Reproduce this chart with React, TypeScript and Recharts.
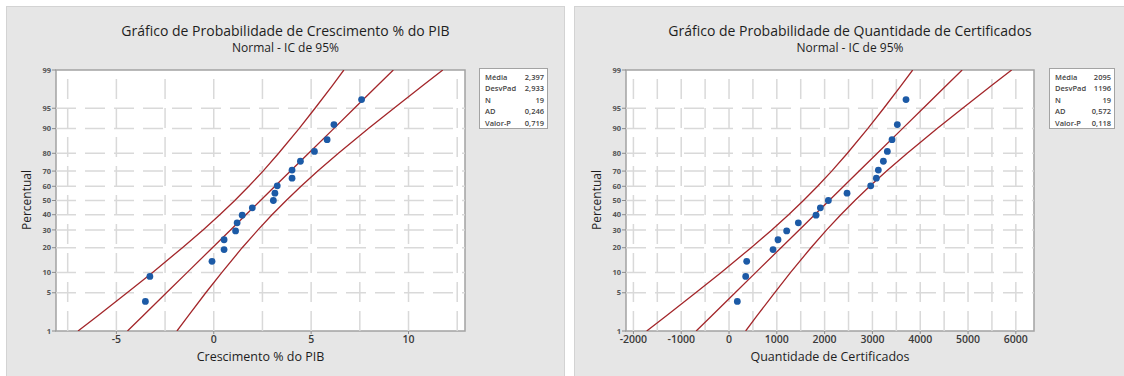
import React from 'react';
import { ScatterChart, Scatter, XAxis, YAxis, ReferenceLine, ReferenceArea } from 'recharts';

// percent ticks on the probability axis
const PCT_TICKS = [1, 5, 10, 20, 30, 40, 50, 60, 70, 80, 90, 95, 99];
const PCT_GRID = [5, 10, 20, 30, 40, 50, 60, 70, 80, 90, 95];
// median ranks of the 19 points
const RANKS = [3.6, 8.8, 13.9, 19.1, 24.2, 29.4, 34.5, 39.7, 44.8, 50, 55.2, 60.3, 65.5, 70.6, 75.8, 80.9, 86.1, 91.2, 96.4];
// percent levels where the fit line and the IC bands were read
const BAND_PCTS = [1, 2, 5, 10, 20, 30, 40, 50, 60, 70, 80, 90, 95, 98, 99];

// Crescimento % do PIB
const pibValues = [-3.51, -3.28, -0.09, 0.53, 0.53, 1.12, 1.2, 1.46, 1.98, 3.06, 3.14, 3.26, 4.02, 4.02, 4.45, 5.17, 5.82, 6.17, 7.59];
const pibFit = [-4.43, -3.63, -2.43, -1.36, -0.07, 0.86, 1.65, 2.4, 3.14, 3.94, 4.87, 6.16, 7.22, 8.42, 9.22];
const pibLower = [-6.97, -5.95, -4.45, -3.14, -1.61, -0.55, 0.31, 1.08, 1.8, 2.53, 3.33, 4.38, 5.2, 6.1, 6.68];
const pibUpper = [-1.89, -1.3, -0.41, 0.42, 1.46, 2.27, 2.99, 3.72, 4.48, 5.34, 6.4, 7.94, 9.25, 10.75, 11.76];
const pibTicks = [-5, 0, 5, 10];
const pibGrid = [-7.5, -5, -2.5, 0, 2.5, 5, 7.5, 10, 12.5];
const pibStats = [['Média', '2,397'], ['DesvPad', '2,933'], ['N', '19'], ['AD', '0,246'], ['Valor-P', '0,719']];

// Quantidade de Certificados
const certValues = [174, 349, 370, 921, 1025, 1206, 1450, 1820, 1911, 2078, 2469, 2964, 3082, 3124, 3229, 3312, 3410, 3521, 3703];
const certFit = [-687, -361, 128, 562, 1088, 1468, 1792, 2095, 2398, 2722, 3102, 3628, 4062, 4551, 4877];
const certLower = [-1722, -1309, -697, -164, 462, 894, 1246, 1557, 1852, 2148, 2476, 2902, 3237, 3603, 3842];
const certUpper = [348, 587, 953, 1288, 1714, 2042, 2338, 2633, 2944, 3296, 3728, 4354, 4887, 5499, 5912];
const certTicks = [-2000, -1000, 0, 1000, 2000, 3000, 4000, 5000, 6000];
const certGrid = [-2000, -1500, -1000, -500, 0, 500, 1000, 1500, 2000, 2500, 3000, 3500, 4000, 4500, 5000, 5500, 6000];
const certStats = [['Média', '2095'], ['DesvPad', '1196'], ['N', '19'], ['AD', '0,572'], ['Valor-P', '0,118']];

const RED = '#a3262a';
const BLUE = '#1c5aa6';
const GRID = '#d9d9d9';
const FONT = '"Open Sans", sans-serif';

// inverse normal cdf (probability scale)
function probit(p: number): number {
  const a = [-39.69683028665376, 220.9460984245205, -275.9285104469687, 138.357751867269, -30.66479806614716, 2.506628277459239];
  const b = [-54.47609879822406, 161.5858368580409, -155.6989798598866, 66.80131188771972, -13.28068155288572];
  const c = [-0.007784894002430293, -0.3223964580411365, -2.400758277161838, -2.549732539343734, 4.374664141464968, 2.938163982698783];
  const d = [0.007784695709041462, 0.3224671290700398, 2.445134137142996, 3.754408661907416];
  const pl = 0.02425;
  if (p < pl) {
    const q = Math.sqrt(-2 * Math.log(p));
    return (((((c[0] * q + c[1]) * q + c[2]) * q + c[3]) * q + c[4]) * q + c[5]) / ((((d[0] * q + d[1]) * q + d[2]) * q + d[3]) * q + 1);
  }
  if (p > 1 - pl) {
    const q = Math.sqrt(-2 * Math.log(1 - p));
    return -(((((c[0] * q + c[1]) * q + c[2]) * q + c[3]) * q + c[4]) * q + c[5]) / ((((d[0] * q + d[1]) * q + d[2]) * q + d[3]) * q + 1);
  }
  const q = p - 0.5;
  const r = q * q;
  return (((((a[0] * r + a[1]) * r + a[2]) * r + a[3]) * r + a[4]) * r + a[5]) * q / (((((b[0] * r + b[1]) * r + b[2]) * r + b[3]) * r + b[4]) * r + 1);
}

const toRows = (xs: number[], ps: number[]) => xs.map((x, i) => ({ x, y: probit(ps[i] / 100) }));

const Y_MIN = probit(0.01);
const Y_MAX = probit(0.99);
const Y_W = 30;
const X_H = 30;

interface PlotProps {
  left: number;
  width: number;
  plotLeft: number;
  plotRight: number;
  panelLeft: number;
  panelWidth: number;
  title: string;
  xLabel: string;
  xDomain: [number, number];
  xTicks: number[];
  xGrid: number[];
  values: number[];
  fit: number[];
  lower: number[];
  upper: number[];
  stats: string[][];
  statsLeft: number;
  statsWidth: number;
  yLabelX: number;
}

const noShape = () => <g />;
const dot = (p: any) => <circle cx={p.cx} cy={p.cy} r={3.4} fill={BLUE} />;

const ProbPlot: React.FC<PlotProps> = (p) => {
  const points = toRows(p.values, RANKS);
  const fitRows = toRows(p.fit, BAND_PCTS);
  const lowRows = toRows(p.lower, BAND_PCTS);
  const upRows = toRows(p.upper, BAND_PCTS);
  const mLeft = p.plotLeft - p.left - Y_W;
  const mRight = p.left + p.width - p.plotRight;
  const center = (p.plotLeft + p.plotRight) / 2;
  const lineProps = { stroke: RED, strokeWidth: 1.3, fill: 'none' };

  return (
    <>
      <div style={{ position: 'absolute', left: p.panelLeft, top: 6, width: p.panelWidth, height: 372, background: '#e6e6e6', border: '1px solid #d3d3d3', boxSizing: 'border-box' }} />
      <div style={{ position: 'absolute', left: p.panelLeft, width: p.panelWidth, top: 21, textAlign: 'center', fontFamily: FONT, fontSize: 14, color: '#1e1e1e', lineHeight: '20px' }}>{p.title}</div>
      <div style={{ position: 'absolute', left: p.panelLeft, width: p.panelWidth, top: 40, textAlign: 'center', fontFamily: FONT, fontSize: 12, color: '#1e1e1e', lineHeight: '16px' }}>Normal - IC de 95%</div>
      <div style={{ position: 'absolute', left: p.left, top: 0 }}>
        <ScatterChart width={p.width} height={376} margin={{ top: 70, right: mRight, bottom: 45 - X_H, left: mLeft }}>
          <XAxis
            type="number"
            dataKey="x"
            domain={p.xDomain}
            ticks={p.xTicks}
            allowDataOverflow
            height={X_H}
            axisLine={false}
            tickSize={3}
            tickMargin={2}
            tickLine={{ stroke: '#8c8c8c' }}
            tick={{ fontSize: 10.5, fontWeight: 600, fill: '#3a3a3a', fontFamily: FONT }}
          />
          <YAxis
            type="number"
            dataKey="y"
            domain={[Y_MIN, Y_MAX]}
            ticks={PCT_TICKS.map((t) => probit(t / 100))}
            tickFormatter={(_v: number, i: number) => String(PCT_TICKS[i])}
            allowDataOverflow
            width={Y_W}
            axisLine={false}
            tickSize={4}
            tickMargin={1}
            tickLine={{ stroke: '#8c8c8c' }}
            tick={{ fontSize: 7.5, fontWeight: 700, fill: '#555', fontFamily: FONT }}
          />
          <ReferenceArea x1={p.xDomain[0]} x2={p.xDomain[1]} y1={Y_MIN} y2={Y_MAX} fill="#fff" fillOpacity={1} stroke="#a3a3a3" strokeWidth={1.5} />
          {p.xGrid.map((g) => (
            <ReferenceLine key={'x' + g} x={g} stroke={GRID} strokeWidth={1.5} strokeDasharray="20 9" />
          ))}
          {PCT_GRID.map((g) => (
            <ReferenceLine key={'y' + g} y={probit(g / 100)} stroke={GRID} strokeWidth={1.5} strokeDasharray="20 9" />
          ))}
          <Scatter data={lowRows} line={lineProps} shape={noShape} fill={RED} isAnimationActive={false} />
          <Scatter data={fitRows} line={lineProps} shape={noShape} fill={RED} isAnimationActive={false} />
          <Scatter data={upRows} line={lineProps} shape={noShape} fill={RED} isAnimationActive={false} />
          <Scatter data={points} shape={dot} fill={BLUE} isAnimationActive={false} />
        </ScatterChart>
      </div>
      <div style={{ position: 'absolute', left: p.yLabelX, top: 200, transform: 'translate(-50%, -50%) rotate(-90deg)', fontFamily: FONT, fontSize: 12, color: '#1e1e1e', whiteSpace: 'nowrap' }}>Percentual</div>
      <div style={{ position: 'absolute', left: center, top: 356, transform: 'translate(-50%, -50%)', fontFamily: FONT, fontSize: 12.5, color: '#1e1e1e', whiteSpace: 'nowrap' }}>{p.xLabel}</div>
      <div style={{ position: 'absolute', left: p.statsLeft, top: 68, width: p.statsWidth, height: 61, background: '#fff', border: '1.5px solid #a3a3a3', boxSizing: 'border-box', padding: '3px 3px 0 5px', fontFamily: FONT, fontSize: 7.5, fontWeight: 600, color: '#444' }}>
        {p.stats.map(([k, v]) => (
          <div key={k} style={{ display: 'flex', justifyContent: 'space-between', lineHeight: '11.4px' }}>
            <span>{k}</span>
            <span>{v}</span>
          </div>
        ))}
      </div>
    </>
  );
};

export default function App() {
  return (
    <div style={{ position: 'fixed', left: 0, top: 0, width: 1124, height: 376, background: '#fff', overflow: 'hidden' }}>
      <ProbPlot
        left={0}
        width={562}
        plotLeft={56}
        plotRight={465}
        panelLeft={6}
        panelWidth={559}
        title="Gráfico de Probabilidade de Crescimento % do PIB"
        xLabel="Crescimento % do PIB"
        xDomain={[-8.1, 12.9]}
        xTicks={pibTicks}
        xGrid={pibGrid}
        values={pibValues}
        fit={pibFit}
        lower={pibLower}
        upper={pibUpper}
        stats={pibStats}
        statsLeft={479}
        statsWidth={69}
        yLabelX={26}
      />
      <ProbPlot
        left={562}
        width={562}
        plotLeft={626}
        plotRight={1034}
        panelLeft={574}
        panelWidth={552}
        title="Gráfico de Probabilidade de Quantidade de Certificados"
        xLabel="Quantidade de Certificados"
        xDomain={[-2155, 6380]}
        xTicks={certTicks}
        xGrid={certGrid}
        values={certValues}
        fit={certFit}
        lower={certLower}
        upper={certUpper}
        stats={certStats}
        statsLeft={1049}
        statsWidth={66}
        yLabelX={596}
      />
    </div>
  );
}
